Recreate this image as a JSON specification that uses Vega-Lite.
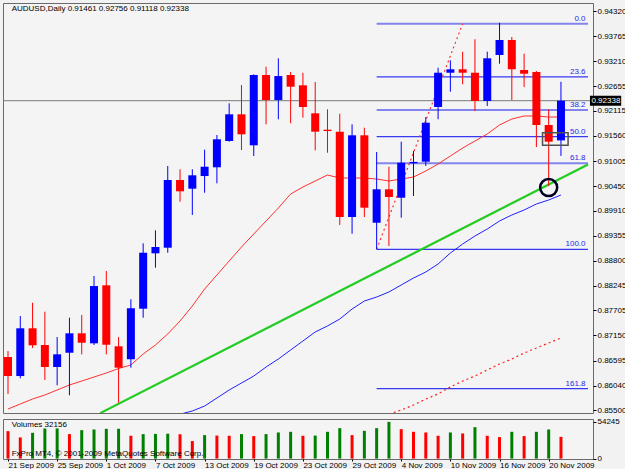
{
  "$schema": "https://vega.github.io/schema/vega-lite/v6.json",
  "background": "#F2F2F2",
  "padding": {"left": 2, "top": 2, "right": 0, "bottom": 0},
  "spacing": 2,
  "config": {
    "view": {"stroke": "#6A6A6A", "fill": "#F4F4F4"},
    "font": "Liberation Sans",
    "axis": {"labelFont": "Liberation Sans", "labelFontSize": 8, "labelColor": "#000000", "tickColor": "#000000", "domain": false, "grid": false, "title": null, "labelOverlap": false, "labelBound": false, "labelFlush": false}
  },
  "datasets": {
    "candles": [
      {"i":0,"o":0.86673,"h":0.86806,"l":0.85856,"c":0.86253},
      {"i":1,"o":0.86253,"h":0.87579,"l":0.86203,"c":0.87308},
      {"i":2,"o":0.87308,"h":0.87873,"l":0.86872,"c":0.86932},
      {"i":3,"o":0.86939,"h":0.87675,"l":0.86165,"c":0.86452},
      {"i":4,"o":0.86452,"h":0.87115,"l":0.86048,"c":0.86733},
      {"i":5,"o":0.86768,"h":0.87542,"l":0.85827,"c":0.87197},
      {"i":6,"o":0.87197,"h":0.87602,"l":0.86733,"c":0.86989},
      {"i":7,"o":0.86976,"h":0.88463,"l":0.86939,"c":0.88242},
      {"i":8,"o":0.88258,"h":0.88574,"l":0.86733,"c":0.86945},
      {"i":9,"o":0.8691,"h":0.87115,"l":0.85663,"c":0.86437},
      {"i":10,"o":0.86623,"h":0.87949,"l":0.86437,"c":0.8775},
      {"i":11,"o":0.87741,"h":0.89186,"l":0.87542,"c":0.88978},
      {"i":12,"o":0.88965,"h":0.89473,"l":0.88647,"c":0.89104},
      {"i":13,"o":0.89089,"h":0.90894,"l":0.88978,"c":0.90585},
      {"i":14,"o":0.90585,"h":0.90822,"l":0.90106,"c":0.90335},
      {"i":15,"o":0.90393,"h":0.90822,"l":0.89812,"c":0.90689},
      {"i":16,"o":0.90673,"h":0.91255,"l":0.90304,"c":0.90879},
      {"i":17,"o":0.90866,"h":0.9158,"l":0.90512,"c":0.91485},
      {"i":18,"o":0.91447,"h":0.9228,"l":0.91432,"c":0.92037},
      {"i":19,"o":0.92037,"h":0.92685,"l":0.91248,"c":0.91595},
      {"i":20,"o":0.91352,"h":0.92921,"l":0.91116,"c":0.92906},
      {"i":21,"o":0.92906,"h":0.93089,"l":0.91816,"c":0.92353},
      {"i":22,"o":0.92353,"h":0.93275,"l":0.91927,"c":0.92883},
      {"i":23,"o":0.92906,"h":0.92972,"l":0.91838,"c":0.92647},
      {"i":24,"o":0.92678,"h":0.92956,"l":0.91962,"c":0.92198},
      {"i":25,"o":0.92059,"h":0.92751,"l":0.91241,"c":0.91653},
      {"i":26,"o":0.91697,"h":0.92148,"l":0.91188,"c":0.91667},
      {"i":27,"o":0.91653,"h":0.9205,"l":0.89591,"c":0.89767},
      {"i":28,"o":0.89767,"h":0.91816,"l":0.89398,"c":0.91573},
      {"i":29,"o":0.91573,"h":0.91741,"l":0.89767,"c":0.89973},
      {"i":30,"o":0.89641,"h":0.91204,"l":0.89054,"c":0.9038},
      {"i":31,"o":0.9038,"h":0.90879,"l":0.89127,"c":0.90209},
      {"i":32,"o":0.90194,"h":0.91432,"l":0.89752,"c":0.90967},
      {"i":33,"o":0.90955,"h":0.91226,"l":0.90232,"c":0.90985},
      {"i":34,"o":0.9099,"h":0.91977,"l":0.90895,"c":0.91851},
      {"i":35,"o":0.92198,"h":0.93067,"l":0.91927,"c":0.92956},
      {"i":36,"o":0.92956,"h":0.93231,"l":0.92537,"c":0.93032},
      {"i":37,"o":0.93032,"h":0.93421,"l":0.927,"c":0.92956},
      {"i":38,"o":0.92956,"h":0.93695,"l":0.9211,"c":0.92331},
      {"i":39,"o":0.92331,"h":0.93421,"l":0.92221,"c":0.93275},
      {"i":40,"o":0.93348,"h":0.94061,"l":0.93155,"c":0.93679},
      {"i":41,"o":0.93679,"h":0.93745,"l":0.92353,"c":0.93032},
      {"i":42,"o":0.93016,"h":0.93376,"l":0.9264,"c":0.92934},
      {"i":43,"o":0.92972,"h":0.92994,"l":0.91314,"c":0.91801},
      {"i":44,"o":0.91801,"h":0.92148,"l":0.90452,"c":0.91432},
      {"i":45,"o":0.91461,"h":0.92756,"l":0.91118,"c":0.92338}
    ],
    "ma_fast": [
      {"i":0,"p":0.85524},{"i":1,"p":0.85635},{"i":2,"p":0.85745},{"i":3,"p":0.85834},{"i":4,"p":0.85944},
      {"i":5,"p":0.86055},{"i":6,"p":0.86143},{"i":7,"p":0.86231},{"i":8,"p":0.8632},{"i":9,"p":0.86419},
      {"i":10,"p":0.86498},{"i":11,"p":0.8674},{"i":12,"p":0.86939},{"i":13,"p":0.87182},{"i":14,"p":0.87469},
      {"i":15,"p":0.87801},{"i":16,"p":0.88176},{"i":17,"p":0.88486},{"i":18,"p":0.88795},{"i":19,"p":0.89104},
      {"i":20,"p":0.89392},{"i":21,"p":0.89679},{"i":22,"p":0.89966},{"i":23,"p":0.90276},{"i":24,"p":0.9043},
      {"i":25,"p":0.90563},{"i":26,"p":0.90696},{"i":27,"p":0.90629},{"i":28,"p":0.90629},{"i":29,"p":0.90629},
      {"i":30,"p":0.90607},{"i":31,"p":0.90563},{"i":32,"p":0.90607},{"i":33,"p":0.90651},{"i":34,"p":0.90784},
      {"i":35,"p":0.90939},{"i":36,"p":0.91116},{"i":37,"p":0.91292},{"i":38,"p":0.91447},{"i":39,"p":0.91602},
      {"i":40,"p":0.91801},{"i":41,"p":0.91933},{"i":42,"p":0.92},{"i":43,"p":0.92},{"i":44,"p":0.91977},{"i":45,"p":0.91977}
    ],
    "ma_mid": [
      {"i":14,"p":0.8541},{"i":15,"p":0.8548},{"i":16,"p":0.8559},{"i":17,"p":0.85767},{"i":18,"p":0.85944},
      {"i":19,"p":0.86099},{"i":20,"p":0.86253},{"i":21,"p":0.86452},{"i":22,"p":0.86629},{"i":23,"p":0.86828},
      {"i":24,"p":0.87027},{"i":25,"p":0.87226},{"i":26,"p":0.87359},{"i":27,"p":0.87513},{"i":28,"p":0.87734},
      {"i":29,"p":0.87911},{"i":30,"p":0.87999},{"i":31,"p":0.8811},{"i":32,"p":0.88265},{"i":33,"p":0.88419},
      {"i":34,"p":0.88552},{"i":35,"p":0.88729},{"i":36,"p":0.88972},{"i":37,"p":0.89171},{"i":38,"p":0.89348},
      {"i":39,"p":0.89502},{"i":40,"p":0.89679},{"i":41,"p":0.89812},{"i":42,"p":0.89922},{"i":43,"p":0.90055},
      {"i":44,"p":0.90143},{"i":45,"p":0.90254}
    ],
    "ma_slow": [
      {"i":31,"p":0.85414},{"i":32,"p":0.85502},{"i":33,"p":0.85613},{"i":34,"p":0.85745},{"i":35,"p":0.85856},
      {"i":36,"p":0.86011},{"i":37,"p":0.86143},{"i":38,"p":0.86253},{"i":39,"p":0.86386},{"i":40,"p":0.86519},
      {"i":41,"p":0.86629},{"i":42,"p":0.86762},{"i":43,"p":0.86872},{"i":44,"p":0.86983},{"i":45,"p":0.87093}
    ],
    "trend": [{"i":7.5,"p":0.85433},{"i":47.2,"p":0.90928}],
    "fibline": [{"i":30,"p":0.89054},{"i":37,"p":0.94039}],
    "fib": [
      {"level":"0.0","p":0.94039},
      {"level":"23.6","p":0.92863},
      {"level":"38.2","p":0.92135},
      {"level":"50.0","p":0.91546},
      {"level":"61.8","p":0.90958},
      {"level":"100.0","p":0.89054},
      {"level":"161.8","p":0.85973}
    ],
    "volume": [
      {"i":0,"v":40561,"dir":"down"},{"i":1,"v":31276,"dir":"down"},{"i":2,"v":38118,"dir":"up"},{"i":3,"v":44471,"dir":"up"},
      {"i":4,"v":44600,"dir":"up"},{"i":5,"v":36163,"dir":"down"},{"i":6,"v":42027,"dir":"up"},{"i":7,"v":43005,"dir":"up"},
      {"i":8,"v":43982,"dir":"up"},{"i":9,"v":44100,"dir":"up"},{"i":10,"v":33720,"dir":"down"},{"i":11,"v":36163,"dir":"up"},
      {"i":12,"v":36500,"dir":"up"},{"i":13,"v":36800,"dir":"up"},{"i":14,"v":36000,"dir":"down"},{"i":15,"v":25900,"dir":"down"},
      {"i":16,"v":34697,"dir":"up"},{"i":17,"v":34000,"dir":"down"},{"i":18,"v":33720,"dir":"down"},{"i":19,"v":36163,"dir":"up"},
      {"i":20,"v":33231,"dir":"down"},{"i":21,"v":36163,"dir":"up"},{"i":22,"v":38607,"dir":"up"},{"i":23,"v":39584,"dir":"up"},
      {"i":24,"v":33720,"dir":"down"},{"i":25,"v":34000,"dir":"up"},{"i":26,"v":39584,"dir":"up"},{"i":27,"v":44960,"dir":"up"},
      {"i":28,"v":34697,"dir":"down"},{"i":29,"v":41050,"dir":"up"},{"i":30,"v":44960,"dir":"up"},{"i":31,"v":54245,"dir":"up"},
      {"i":32,"v":43494,"dir":"down"},{"i":33,"v":39584,"dir":"down"},{"i":34,"v":38607,"dir":"down"},{"i":35,"v":33720,"dir":"down"},
      {"i":36,"v":38607,"dir":"up"},{"i":37,"v":37141,"dir":"down"},{"i":38,"v":46426,"dir":"up"},{"i":39,"v":33720,"dir":"down"},
      {"i":40,"v":31765,"dir":"down"},{"i":41,"v":39584,"dir":"up"},{"i":42,"v":33231,"dir":"down"},{"i":43,"v":39584,"dir":"up"},
      {"i":44,"v":43005,"dir":"up"},{"i":45,"v":32156,"dir":"down"}
    ]
  },
  "vconcat": [
    {
      "width": 590,
      "height": 410,
      "layer": [
        {
          "data": {"values": [{}]},
          "mark": {"type": "rule", "color": "#7A7A7A", "strokeWidth": 1, "clip": true},
          "encoding": {
            "y": {"datum": 0.92338, "type": "quantitative",
              "scale": {"domain": [0.85436, 0.94497], "nice": false, "zero": false},
              "axis": {"orient": "right", "values": [0.9432, 0.93765, 0.9321, 0.92655, 0.92115, 0.9156, 0.91005, 0.9045, 0.8991, 0.89355, 0.888, 0.88245, 0.87705, 0.8715, 0.86595, 0.8604, 0.855], "tickCount": 30, "format": ".5f", "tickSize": 3, "labelPadding": 1, "labelOverlap": false}}
          }
        },
        {
          "data": {"name": "fib"},
          "mark": {"type": "rule", "clip": true},
          "encoding": {
            "x": {"datum": 30, "type": "quantitative", "scale": {"domain": [0, 47.2], "nice": false, "zero": false}, "axis": null},
            "x2": {"datum": 47.2},
            "y": {"field": "p", "type": "quantitative"},
            "color": {"condition": {"test": "datum.level == '0.0' || datum.level == '38.2' || datum.level == '61.8'", "value": "#8484F0"}, "value": "#3838F4"},
            "strokeWidth": {"condition": {"test": "datum.level == '0.0' || datum.level == '38.2' || datum.level == '61.8'", "value": 2}, "value": 1.2}
          }
        },
        {
          "data": {"name": "fib"},
          "mark": {"type": "text", "align": "right", "baseline": "bottom", "dy": -1, "fontSize": 8, "color": "#2828E8", "clip": true},
          "encoding": {
            "x": {"datum": 47.0, "type": "quantitative", "axis": null},
            "y": {"field": "p", "type": "quantitative"},
            "text": {"field": "level"}
          }
        },
        {
          "data": {"name": "fibline"},
          "mark": {"type": "line", "color": "#FF3030", "strokeWidth": 1.2, "strokeDash": [2, 3], "clip": true},
          "encoding": {
            "x": {"field": "i", "type": "quantitative", "axis": null},
            "y": {"field": "p", "type": "quantitative"}
          }
        },
        {
          "data": {"name": "ma_slow"},
          "mark": {"type": "line", "color": "#FF2020", "strokeWidth": 1.2, "strokeDash": [2, 3], "clip": true},
          "encoding": {
            "x": {"field": "i", "type": "quantitative", "axis": null},
            "y": {"field": "p", "type": "quantitative"}
          }
        },
        {
          "data": {"name": "ma_mid"},
          "mark": {"type": "line", "color": "#2020FF", "strokeWidth": 1, "clip": true},
          "encoding": {
            "x": {"field": "i", "type": "quantitative", "axis": null},
            "y": {"field": "p", "type": "quantitative"}
          }
        },
        {
          "data": {"name": "ma_fast"},
          "mark": {"type": "line", "color": "#FF3030", "strokeWidth": 1, "clip": true},
          "encoding": {
            "x": {"field": "i", "type": "quantitative", "axis": null},
            "y": {"field": "p", "type": "quantitative"}
          }
        },
        {
          "data": {"name": "trend"},
          "mark": {"type": "line", "color": "#22CC22", "strokeWidth": 2.2, "clip": true},
          "encoding": {
            "x": {"field": "i", "type": "quantitative", "axis": null},
            "y": {"field": "p", "type": "quantitative"}
          }
        },
        {
          "data": {"name": "candles"},
          "mark": {"type": "rule", "strokeWidth": 1, "clip": true},
          "encoding": {
            "x": {"field": "i", "type": "quantitative", "axis": null},
            "y": {"field": "l", "type": "quantitative"},
            "y2": {"field": "h"},
            "color": {"condition": {"test": "datum.c >= datum.o", "value": "#0000FF"}, "value": "#FF0000"}
          }
        },
        {
          "data": {"name": "candles"},
          "mark": {"type": "bar", "size": 8, "clip": true},
          "encoding": {
            "x": {"field": "i", "type": "quantitative", "axis": null},
            "y": {"field": "o", "type": "quantitative"},
            "y2": {"field": "c"},
            "color": {"condition": {"test": "datum.c >= datum.o", "value": "#0000FF"}, "value": "#FF0000"}
          }
        },
        {
          "data": {"values": [{}]},
          "mark": {"type": "rect", "filled": false, "stroke": "#505050", "strokeWidth": 1.5, "clip": true},
          "encoding": {
            "x": {"datum": 43.5, "type": "quantitative", "axis": null},
            "x2": {"datum": 45.58},
            "y": {"datum": 0.9163, "type": "quantitative"},
            "y2": {"datum": 0.91352}
          }
        },
        {
          "data": {"values": [{}]},
          "mark": {"type": "point", "shape": "circle", "filled": false, "size": 290, "stroke": "#000022", "strokeWidth": 2.5, "opacity": 1, "clip": true},
          "encoding": {
            "x": {"datum": 44, "type": "quantitative", "axis": null},
            "y": {"datum": 0.90419, "type": "quantitative"}
          }
        },
        {
          "data": {"values": [{"t": "AUDUSD,Daily  0.91461 0.92756 0.91118 0.92338"}]},
          "mark": {"type": "text", "align": "left", "baseline": "middle", "fontSize": 8, "color": "#000000"},
          "encoding": {
            "x": {"datum": 0.3, "type": "quantitative", "axis": null},
            "y": {"datum": 0.94364, "type": "quantitative"},
            "text": {"field": "t"}
          }
        },
        {
          "data": {"values": [{}]},
          "mark": {"type": "rect", "color": "#000000", "clip": false},
          "encoding": {
            "x": {"datum": 47.36, "type": "quantitative", "axis": null},
            "x2": {"datum": 49.9},
            "y": {"datum": 0.92448, "type": "quantitative"},
            "y2": {"datum": 0.92228}
          }
        },
        {
          "data": {"values": [{"t": "0.92338"}]},
          "mark": {"type": "text", "align": "left", "baseline": "middle", "fontSize": 8, "color": "#FFFFFF", "clip": false},
          "encoding": {
            "x": {"datum": 47.48, "type": "quantitative", "axis": null},
            "y": {"datum": 0.92338, "type": "quantitative"},
            "text": {"field": "t"}
          }
        }
      ]
    },
    {
      "width": 590,
      "height": 40,
      "layer": [
        {
          "data": {"name": "volume"},
          "mark": {"type": "bar", "size": 3, "clip": true},
          "encoding": {
            "x": {"field": "i", "type": "quantitative",
              "scale": {"domain": [0, 47.2], "nice": false, "zero": false},
              "axis": {"orient": "bottom", "values": [0, 4, 8, 12, 16, 20, 24, 28, 32, 36, 40, 44], "tickCount": 30, "labelExpr": "['21 Sep 2009','25 Sep 2009','1 Oct 2009','7 Oct 2009','13 Oct 2009','19 Oct 2009','23 Oct 2009','29 Oct 2009','4 Nov 2009','10 Nov 2009','16 Nov 2009','20 Nov 2009'][round(datum.value/4)]", "labelAlign": "left", "labelBaseline": "top", "labelPadding": 0, "tickSize": 2, "labelOverlap": false}},
            "y": {"field": "v", "type": "quantitative",
              "scale": {"domain": [-600, 58500], "nice": false, "zero": false},
              "axis": {"orient": "right", "values": [0, 54245], "tickCount": 5, "format": "d", "tickSize": 3, "labelPadding": 1, "labelOverlap": false}},
            "y2": {"datum": 0},
            "color": {"field": "dir", "type": "nominal", "scale": {"domain": ["up", "down"], "range": ["#008000", "#FF0000"]}, "legend": null}
          }
        },
        {
          "data": {"values": [{"t": "Volumes 32156"}]},
          "mark": {"type": "text", "align": "left", "baseline": "middle", "fontSize": 8, "color": "#000000"},
          "encoding": {
            "x": {"datum": 0.3, "type": "quantitative"},
            "y": {"datum": 50000, "type": "quantitative"},
            "text": {"field": "t"}
          }
        },
        {
          "data": {"values": [{"t": "FxPro MT4, © 2001-2009 MetaQuotes Software Corp."}]},
          "mark": {"type": "text", "align": "left", "baseline": "middle", "fontSize": 8, "color": "#000000"},
          "encoding": {
            "x": {"datum": 0.3, "type": "quantitative"},
            "y": {"datum": 7000, "type": "quantitative"},
            "text": {"field": "t"}
          }
        }
      ]
    }
  ]
}
